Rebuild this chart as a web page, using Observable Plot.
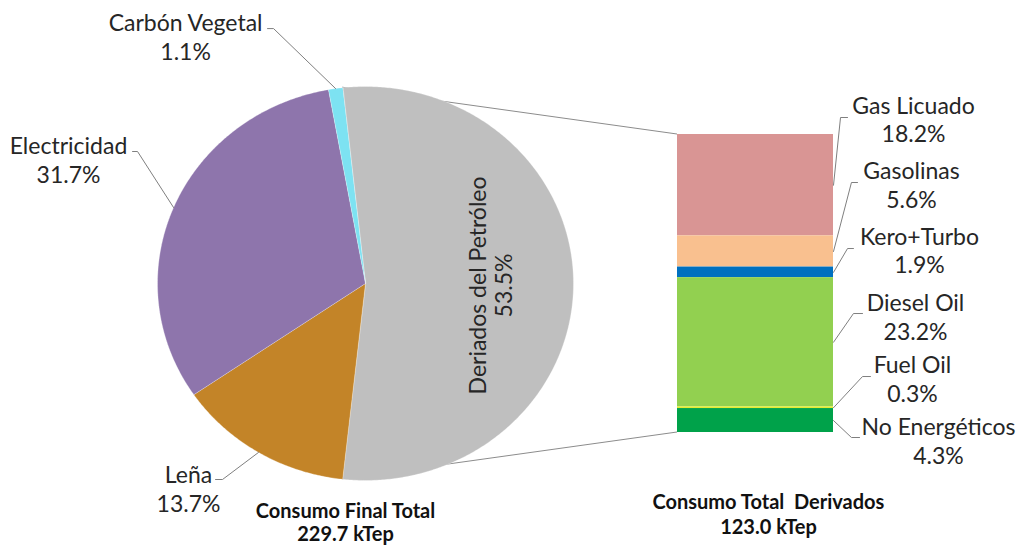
<!DOCTYPE html>
<html><head><meta charset="utf-8">
<script src="https://cdn.jsdelivr.net/npm/d3@7"></script>
<script src="https://cdn.jsdelivr.net/npm/@observablehq/plot@0.6"></script>
<style>
body{margin:0;background:#fff}
#chart{position:relative;width:1020px;height:545px}
#chart svg{position:absolute;left:0;top:0}
</style>
</head><body><div id="chart"></div>
<script>
// ---- data ----
const pieNames  = ["Deriados del Petróleo", "Leña", "Electricidad", "Carbón Vegetal"];
const pieShares = [53.5, 13.7, 31.7, 1.1];
const barNames  = ["Gas Licuado", "Gasolinas", "Kero+Turbo", "Diesel Oil", "Fuel Oil", "No Energéticos"];
const barShares = [18.2, 5.6, 1.9, 23.2, 0.3, 4.3];
const totalLabels = ["Consumo Final Total\n229.7 kTep", "Consumo Total  Derivados\n123.0 kTep"];

// ---- styles ----
const pieColors = ["#BFBFBF", "#C38428", "#8E75AC", "#7DE2F2"];
const barColors = ["#D99594", "#F9C08F", "#0070C0", "#92D050", "#E1EE31", "#00A24A"];
const FONT = "Lato, 'Open Sans', sans-serif";
const TXT = "#262626";
const LEAD = "#7f7f7f";
const LABEL_SIZE = 23;
const CAP_SIZE = 20;

// ---- layout (label anchors, in each plot's own units) ----
const pieLabelLayout = {
  "Deriados del Petróleo": {x: 0.60, y: -0.01, rotate: -90},
  "Leña":          {x: -0.851, y: -1.038, ex: [-0.721, -0.6875], ey: -0.995},
  "Electricidad":  {x: -1.428, y: 0.632,  ex: [-1.120, -1.096],  ey: 0.670},
  "Carbón Vegetal":{x: -0.865, y: 1.254,  ex: [-0.471, -0.442],  ey: 1.294}
};
const barLabelX  = [1.513, 1.500, 1.551, 1.526, 1.506, 1.673];
const barLabelY  = [56.3, 44.6, 32.8, 20.9, 9.7, -1.4];
const barElbowX1 = [1.090, 1.154, 1.128, 1.186, 1.237, 1.167];
const barElbowX2 = [1.045, 1.115, 1.090, 1.128, 1.186, 1.115];
const barElbowY  = [56.55, 44.88, 33.03, 21.36, 10.05, -0.90];

// ---- pie geometry (angles clockwise from 12 o'clock, split slice centred at 3 o'clock) ----
const rad = d => d * Math.PI / 180;
const fmt = v => v.toFixed(1) + "%";
let a = 90 - pieShares[0] * 3.6 / 2;
const slices = pieNames.map((name, i) => {
  const a0 = a, a1 = a + pieShares[i] * 3.6; a = a1;
  return {name, share: pieShares[i], a0, a1, mid: (a0 + a1) / 2};
});
const piePts = [];
for (const s of slices) {
  piePts.push({name: s.name, x: 0, y: 0});
  const n = Math.max(2, Math.ceil((s.a1 - s.a0) / 0.5));
  for (let k = 0; k <= n; k++) {
    const t = rad(s.a0 + (s.a1 - s.a0) * k / n);
    piePts.push({name: s.name, x: Math.sin(t), y: Math.cos(t)});
  }
}
const pieLeaders = [];
const pieLabels = [];
for (const s of slices) {
  const L = pieLabelLayout[s.name];
  pieLabels.push({text: s.name + "\n" + fmt(s.share), x: L.x, y: L.y, rotate: L.rotate || 0});
  if (L.ex) {
    pieLeaders.push({id: s.name, x: L.ex[0], y: L.ey});
    pieLeaders.push({id: s.name, x: L.ex[1], y: L.ey});
    pieLeaders.push({id: s.name, x: Math.sin(rad(s.mid)), y: Math.cos(rad(s.mid))});
  }
}

const piePlot = Plot.plot({
  width: 1020, height: 545, margin: 0,
  x: {domain: [-1, 1], range: [157, 573], axis: null},
  y: {domain: [-1, 1], range: [480, 86], axis: null},
  color: {domain: pieNames, range: pieColors},
  style: {background: "transparent", overflow: "visible", fontFamily: FONT},
  marks: [
    Plot.line(piePts, {x: "x", y: "y", z: "name", fill: "name", stroke: "#ffffff", strokeWidth: 0.5, strokeOpacity: 0.6, curve: "linear-closed"}),
    Plot.line(pieLeaders, {x: "x", y: "y", z: "id", stroke: LEAD, strokeWidth: 1}),
    Plot.text(pieLabels.filter(d => !d.rotate), {x: "x", y: "y", text: "text", fontSize: LABEL_SIZE, lineHeight: 1.25, fill: TXT, fontFamily: FONT}),
    Plot.text(pieLabels.filter(d => d.rotate), {x: "x", y: "y", text: "text", rotate: -90, fontSize: LABEL_SIZE, lineHeight: 1.13, fill: TXT, fontFamily: FONT}),
    Plot.text([totalLabels[0]], {x: -0.096, y: -1.213, text: d => d, fontSize: CAP_SIZE, fontWeight: "bold", lineHeight: 1.15, fill: "#111", fontFamily: FONT})
  ]
});

// ---- bar (the split slice broken down) ----
const barRows = [];
let cum = 0;
for (let i = barNames.length - 1; i >= 0; i--) {
  barRows.push({name: barNames[i], value: barShares[i], y1: cum, y2: cum + barShares[i], i});
  cum += barShares[i];
}
barRows.sort((p, q) => p.i - q.i);
const barTotal = cum;
const barLeaders = [];
barRows.forEach((r, i) => {
  barLeaders.push({id: r.name, x: barElbowX1[i], y: barElbowY[i]});
  barLeaders.push({id: r.name, x: barElbowX2[i], y: barElbowY[i]});
  barLeaders.push({id: r.name, x: 1, y: (r.y1 + r.y2) / 2});
});
const barLabels = barRows.map((r, i) => ({text: r.name + "\n" + fmt(r.value), x: barLabelX[i], y: barLabelY[i]}));

const pieX = piePlot.scale("x"), pieY = piePlot.scale("y");
const split = slices[0];
const connectors = [{a: split.a0, v: barTotal}, {a: split.a1, v: 0}];
function connectorMark(index, scales) {
  const g = d3.create("svg:g").attr("stroke", "#8c8c8c").attr("stroke-width", 1);
  for (const c of connectors) {
    g.append("line")
      .attr("x1", pieX.apply(Math.sin(rad(c.a)))).attr("y1", pieY.apply(Math.cos(rad(c.a))))
      .attr("x2", scales.x(0)).attr("y2", scales.y(c.v));
  }
  return g.node();
}

const barPlot = Plot.plot({
  width: 1020, height: 545, margin: 0,
  x: {domain: [0, 1], range: [677, 833], axis: null},
  y: {domain: [0, barTotal], range: [432, 134], axis: null},
  color: {domain: barNames, range: barColors},
  style: {background: "#ffffff", overflow: "visible", fontFamily: FONT},
  marks: [
    connectorMark,
    Plot.rect(barRows, {x1: 0, x2: 1, y1: "y1", y2: "y2", fill: "name"}),
    Plot.line(barLeaders, {x: "x", y: "y", z: "id", stroke: LEAD, strokeWidth: 1}),
    Plot.text(barLabels, {x: "x", y: "y", text: "text", fontSize: LABEL_SIZE, lineHeight: 1.25, fill: TXT, fontFamily: FONT}),
    Plot.text([totalLabels[1]], {x: 0.583, y: -14.63, text: d => d, fontSize: CAP_SIZE, fontWeight: "bold", lineHeight: 1.25, fill: "#111", fontFamily: FONT})
  ]
});

const chart = document.getElementById("chart");
chart.appendChild(barPlot);
chart.appendChild(piePlot);
</script>
</body></html>
